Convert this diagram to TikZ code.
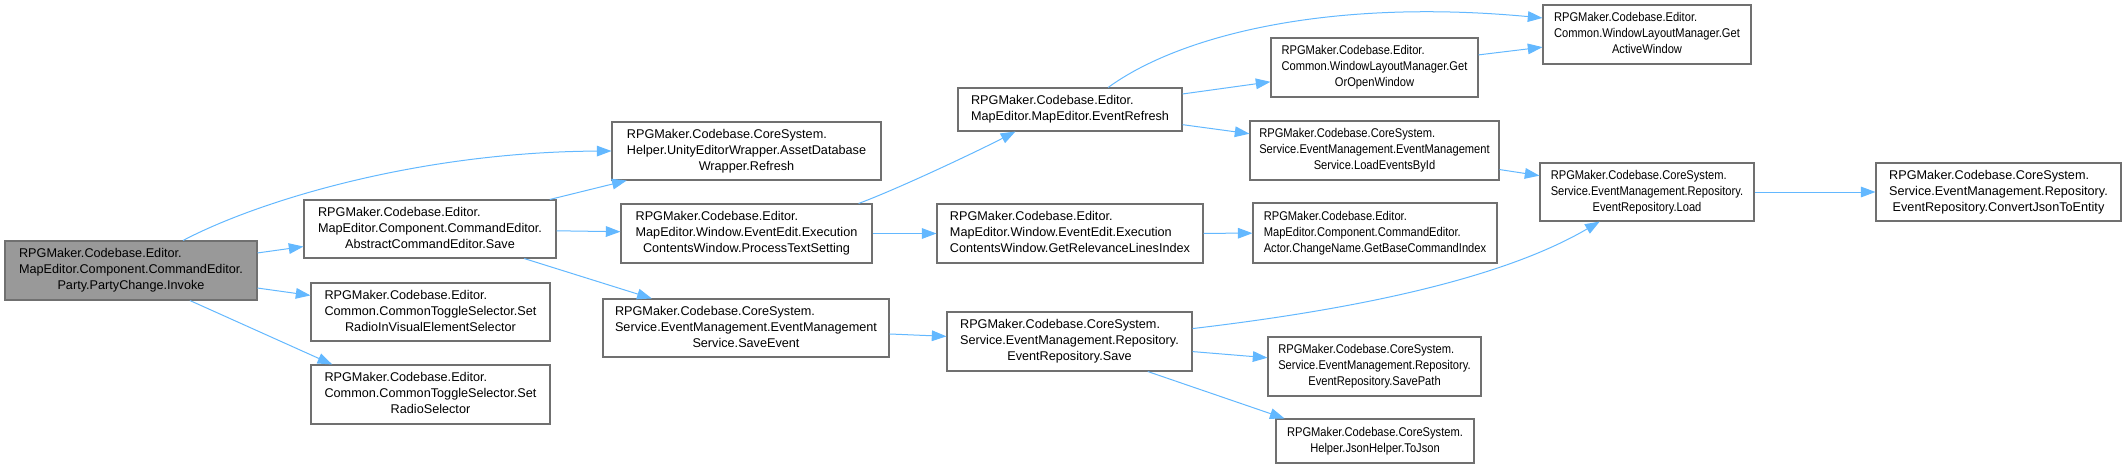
\documentclass[tikz,border=0pt]{standalone}
\usepackage{fontspec}
\setmainfont{Liberation Sans}
\newfontfamily\narrowsans{Liberation Sans}[FakeStretch=0.88]
\usepackage{tikz}
\usetikzlibrary{arrows.meta}
\usepackage{xcolor}

\definecolor{edgeblue}{HTML}{63B8FF}
\definecolor{boxgray}{HTML}{707070}
\definecolor{rootgray}{HTML}{999999}

% lines of a member name: all but the last flush left, the last centred
\newcommand{\fnname}[2]{\begin{tabular}{@{}l@{}}#1\\\multicolumn{1}{@{}c@{}}{#2}\end{tabular}}

\begin{document}
\begin{tikzpicture}[x=0.75pt, y=0.75pt,
  fn/.style={draw=boxgray, line width=0.8pt, fill=white, inner sep=0pt,
    font=\fontsize{9.5}{12}\selectfont},
  fnnarrow/.style={fn, font=\narrowsans\fontsize{9.5}{12}\selectfont},
  root/.style={fn, fill=rootgray},
  call/.style={draw=edgeblue, line width=0.75pt, -{Triangle[length=11pt,width=8pt]}}]
  \useasboundingbox (0,0) rectangle (2126,-468);

  % Caller
  \node[root, minimum width=189pt, minimum height=44.25pt] (invoke) at (131,-270.5)
    {\fnname{RPGMaker.Codebase.Editor.\\MapEditor.Component.CommandEditor.}{Party.PartyChange.Invoke}};

  % First level
  \node[fn, minimum width=189pt, minimum height=43.5pt] (save) at (430,-229)
    {\fnname{RPGMaker.Codebase.Editor.\\MapEditor.Component.CommandEditor.}{AbstractCommandEditor.Save}};
  \node[fn, minimum width=179.25pt, minimum height=43.5pt] (setvis) at (430.5,-312)
    {\fnname{RPGMaker.Codebase.Editor.\\Common.CommonToggleSelector.Set}{RadioInVisualElementSelector}};
  \node[fn, minimum width=179.25pt, minimum height=44.25pt] (setradio) at (430.5,-394.5)
    {\fnname{RPGMaker.Codebase.Editor.\\Common.CommonToggleSelector.Set}{RadioSelector}};

  % Second level
  \node[fn, minimum width=201.75pt, minimum height=43.5pt] (refresh) at (746.5,-151)
    {\fnname{RPGMaker.Codebase.CoreSystem.\\Helper.UnityEditorWrapper.AssetDatabase}{Wrapper.Refresh}};
  \node[fn, minimum width=188.25pt, minimum height=44.25pt] (process) at (746.5,-233.5)
    {\fnname{RPGMaker.Codebase.Editor.\\MapEditor.Window.EventEdit.Execution}{ContentsWindow.ProcessTextSetting}};
  \node[fn, minimum width=214.5pt, minimum height=43.5pt] (saveevent) at (746,-328)
    {\fnname{RPGMaker.Codebase.CoreSystem.\\Service.EventManagement.EventManagement}{Service.SaveEvent}};

  % Third level
  \node[fn, minimum width=168pt, minimum height=32.25pt] (eventrefresh) at (1070,-109.5)
    {\fnname{RPGMaker.Codebase.Editor.}{MapEditor.MapEditor.EventRefresh}};
  \node[fn, minimum width=199.5pt, minimum height=44.25pt] (relevance) at (1070,-233.5)
    {\fnname{RPGMaker.Codebase.Editor.\\MapEditor.Window.EventEdit.Execution}{ContentsWindow.GetRelevanceLinesIndex}};
  \node[fn, minimum width=183.75pt, minimum height=44.25pt] (reposave) at (1069.5,-341.5)
    {\fnname{RPGMaker.Codebase.CoreSystem.\\Service.EventManagement.Repository.}{EventRepository.Save}};

  % Fourth level
  \node[fnnarrow, minimum width=155.25pt, minimum height=44.25pt] (getoropen) at (1374.5,-67.5)
    {\fnname{RPGMaker.Codebase.Editor.\\Common.WindowLayoutManager.Get}{OrOpenWindow}};
  \node[fnnarrow, minimum width=186.75pt, minimum height=44.25pt] (loadevents) at (1374.5,-150.5)
    {\fnname{RPGMaker.Codebase.CoreSystem.\\Service.EventManagement.EventManagement}{Service.LoadEventsById}};
  \node[fnnarrow, minimum width=183pt, minimum height=45pt] (basecmd) at (1375,-233)
    {\fnname{RPGMaker.Codebase.Editor.\\MapEditor.Component.CommandEditor.}{Actor.ChangeName.GetBaseCommandIndex}};
  \node[fnnarrow, minimum width=159.75pt, minimum height=44.25pt] (savepath) at (1374.5,-366.5)
    {\fnname{RPGMaker.Codebase.CoreSystem.\\Service.EventManagement.Repository.}{EventRepository.SavePath}};
  \node[fnnarrow, minimum width=148.5pt, minimum height=33pt] (tojson) at (1375,-441)
    {\fnname{RPGMaker.Codebase.CoreSystem.}{Helper.JsonHelper.ToJson}};

  % Fifth and sixth level
  \node[fnnarrow, minimum width=156pt, minimum height=44.25pt] (activewin) at (1647,-34.5)
    {\fnname{RPGMaker.Codebase.Editor.\\Common.WindowLayoutManager.Get}{ActiveWindow}};
  \node[fnnarrow, minimum width=160.5pt, minimum height=43.5pt] (repoload) at (1647,-192)
    {\fnname{RPGMaker.Codebase.CoreSystem.\\Service.EventManagement.Repository.}{EventRepository.Load}};
  \node[fn, minimum width=183.75pt, minimum height=43.5pt] (convert) at (1998.5,-192)
    {\fnname{RPGMaker.Codebase.CoreSystem.\\Service.EventManagement.Repository.}{EventRepository.ConvertJsonToEntity}};

  % Calls from the caller
  \draw[call] (invoke.30) .. controls (260,-200) and (420,-152) .. (refresh.west);
  \draw[call] (invoke) -- (save);
  \draw[call] (invoke) -- (setvis);
  \draw[call] (invoke.-27) -- (setradio.163);

  % Calls from Save
  \draw[call] (save) -- (refresh);
  \draw[call] (save) -- (process);
  \draw[call] (save) -- (saveevent);

  % Calls from the second level
  \draw[call] (process.15) .. controls (900,-188) and (980,-150) .. (eventrefresh.202);
  \draw[call] (process) -- (relevance);
  \draw[call] (saveevent) -- (reposave);

  % Calls from the third level
  \draw[call] (eventrefresh.30) .. controls (1180,-35) and (1330,2) .. (activewin.171);
  \draw[call] (eventrefresh) -- (getoropen);
  \draw[call] (eventrefresh) -- (loadevents);
  \draw[call] (relevance) -- (basecmd);
  \draw[call] (reposave.6) .. controls (1350,-310) and (1500,-280) .. (repoload.212);
  \draw[call] (reposave) -- (savepath);
  \draw[call] (reposave.-21) -- (tojson.166);

  % Calls further right
  \draw[call] (getoropen) -- (activewin);
  \draw[call] (loadevents) -- (repoload);
  \draw[call] (repoload) -- (convert);
\end{tikzpicture}
\end{document}
